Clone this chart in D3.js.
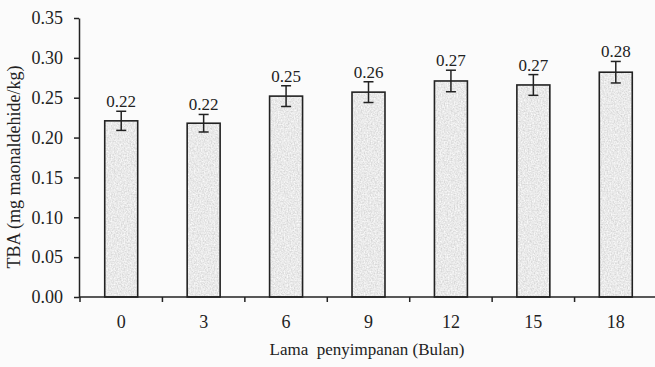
<html>
<head>
    <meta charset="utf-8">
    <title>TBA</title>
    <script src="https://cdn.jsdelivr.net/npm/d3@7/dist/d3.min.js"></script>
    <style>
        body { margin: 0; background: #fbfbfb; }
        text { font-family: "Liberation Serif", "Times New Roman", serif; fill: #222; }
    </style>
</head>
<body>
<script>
    var months = ["0", "3", "6", "9", "12", "15", "18"];
    var tba = [0.221, 0.218, 0.252, 0.257, 0.271, 0.266, 0.282];
    var errs = [0.012, 0.011, 0.013, 0.013, 0.0135, 0.013, 0.0135];
    var labels = ["0.22", "0.22", "0.25", "0.26", "0.27", "0.27", "0.28"];
    var yTicks = [0, 0.05, 0.10, 0.15, 0.20, 0.25, 0.30, 0.35];

    var width = 655;
    var height = 367;

    var svg = d3.select("body")
        .append("svg")
        .attr("width", width)
        .attr("height", height);

    // grey speckled fill for the bars
    var defs = svg.append("defs");
    var filter = defs.append("filter").attr("id", "speckle")
        .attr("x", 0).attr("y", 0).attr("width", 1).attr("height", 1);
    filter.append("feTurbulence")
        .attr("type", "fractalNoise")
        .attr("baseFrequency", 0.7)
        .attr("numOctaves", 2)
        .attr("seed", 3)
        .attr("result", "noise");
    filter.append("feColorMatrix")
        .attr("in", "noise")
        .attr("type", "matrix")
        .attr("values", "0.45 0 0 0 0.59  0.45 0 0 0 0.59  0.45 0 0 0 0.59  0 0 0 0 1")
        .attr("result", "tint");
    filter.append("feComposite").attr("in", "tint").attr("in2", "SourceGraphic").attr("operator", "in");

    var x = d3.scaleBand()
        .domain(months)
        .range([80, 657])
        .paddingInner(0.6)
        .paddingOuter(0.3);

    var y = d3.scaleLinear()
        .domain([0, 0.35])
        .range([297, 18]);

    // bars
    svg.selectAll("rect.fillbar")
        .data(tba)
        .enter()
        .append("rect")
        .attr("class", "fillbar")
        .attr("x", function(d, i){ return x(months[i]); })
        .attr("y", function(d){ return y(d); })
        .attr("width", x.bandwidth())
        .attr("height", function(d){ return y(0) - y(d); })
        .attr("fill", "#d6d6d6")
        .attr("filter", "url(#speckle)");

    svg.selectAll("rect.outline")
        .data(tba)
        .enter()
        .append("rect")
        .attr("class", "outline")
        .attr("x", function(d, i){ return x(months[i]); })
        .attr("y", function(d){ return y(d); })
        .attr("width", x.bandwidth())
        .attr("height", function(d){ return y(0) - y(d); })
        .attr("fill", "none")
        .attr("stroke", "#222")
        .attr("stroke-width", 1.6);

    // error bars
    var eb = svg.selectAll("g.err")
        .data(tba)
        .enter()
        .append("g")
        .attr("class", "err")
        .attr("stroke", "#222")
        .attr("stroke-width", 1.5);

    function cx(i) { return x(months[i]) + x.bandwidth() / 2; }

    eb.append("line")
        .attr("x1", function(d, i){ return cx(i); })
        .attr("x2", function(d, i){ return cx(i); })
        .attr("y1", function(d, i){ return y(d + errs[i]); })
        .attr("y2", function(d, i){ return y(d - errs[i]); });
    eb.append("line")
        .attr("x1", function(d, i){ return cx(i) - 5; })
        .attr("x2", function(d, i){ return cx(i) + 5; })
        .attr("y1", function(d, i){ return y(d + errs[i]); })
        .attr("y2", function(d, i){ return y(d + errs[i]); });
    eb.append("line")
        .attr("x1", function(d, i){ return cx(i) - 5; })
        .attr("x2", function(d, i){ return cx(i) + 5; })
        .attr("y1", function(d, i){ return y(d - errs[i]); })
        .attr("y2", function(d, i){ return y(d - errs[i]); });

    // value labels
    svg.selectAll("text.val")
        .data(tba)
        .enter()
        .append("text")
        .attr("class", "val")
        .attr("text-anchor", "middle")
        .attr("font-size", "17px")
        .attr("x", function(d, i){ return cx(i); })
        .attr("y", function(d, i){ return y(d + errs[i]) - 4; })
        .text(function(d, i){ return labels[i]; });

    // axes
    var yAxis = d3.axisLeft(y)
        .tickValues(yTicks)
        .tickFormat(d3.format(".2f"))
        .tickSizeInner(5)
        .tickSizeOuter(0)
        .tickPadding(11);

    var gy = svg.append("g")
        .attr("transform", "translate(79,0)")
        .call(yAxis);

    var xAxis = d3.axisBottom(x)
        .tickSize(0)
        .tickPadding(18);

    var gx = svg.append("g")
        .attr("transform", "translate(0,297)")
        .call(xAxis);

    // tick marks sit between the categories
    var step = x.step();
    var edges = months.map(function(m){ return x(m) - (x.paddingInner() * step) / 2; });
    gx.selectAll("line.sep")
        .data(edges)
        .enter()
        .append("line")
        .attr("class", "sep")
        .attr("x1", function(d){ return d; })
        .attr("x2", function(d){ return d; })
        .attr("y1", 0)
        .attr("y2", 5)
        .attr("stroke", "#222")
        .attr("stroke-width", 1.5);

    gx.select(".domain").attr("d", "M79,0H657");

    [gx, gy].forEach(function(g){
        g.select(".domain").attr("stroke", "#222").attr("stroke-width", 1.5);
        g.selectAll(".tick line").attr("stroke", "#222").attr("stroke-width", 1.5);
        g.selectAll("text")
            .attr("font-family", "Liberation Serif, serif")
            .attr("font-size", "18px")
            .attr("fill", "#222");
    });

    // axis titles
    svg.append("text")
        .attr("text-anchor", "middle")
        .attr("font-size", "18px")
        .attr("transform", "translate(20,167) rotate(-90)")
        .text("TBA (mg maonaldehide/kg)");

    svg.append("text")
        .attr("text-anchor", "middle")
        .attr("font-size", "17px")
        .attr("x", 367)
        .attr("y", 355)
        .attr("xml:space", "preserve")
        .style("white-space", "pre")
        .text("Lama  penyimpanan (Bulan)");
</script>
</body>
</html>
